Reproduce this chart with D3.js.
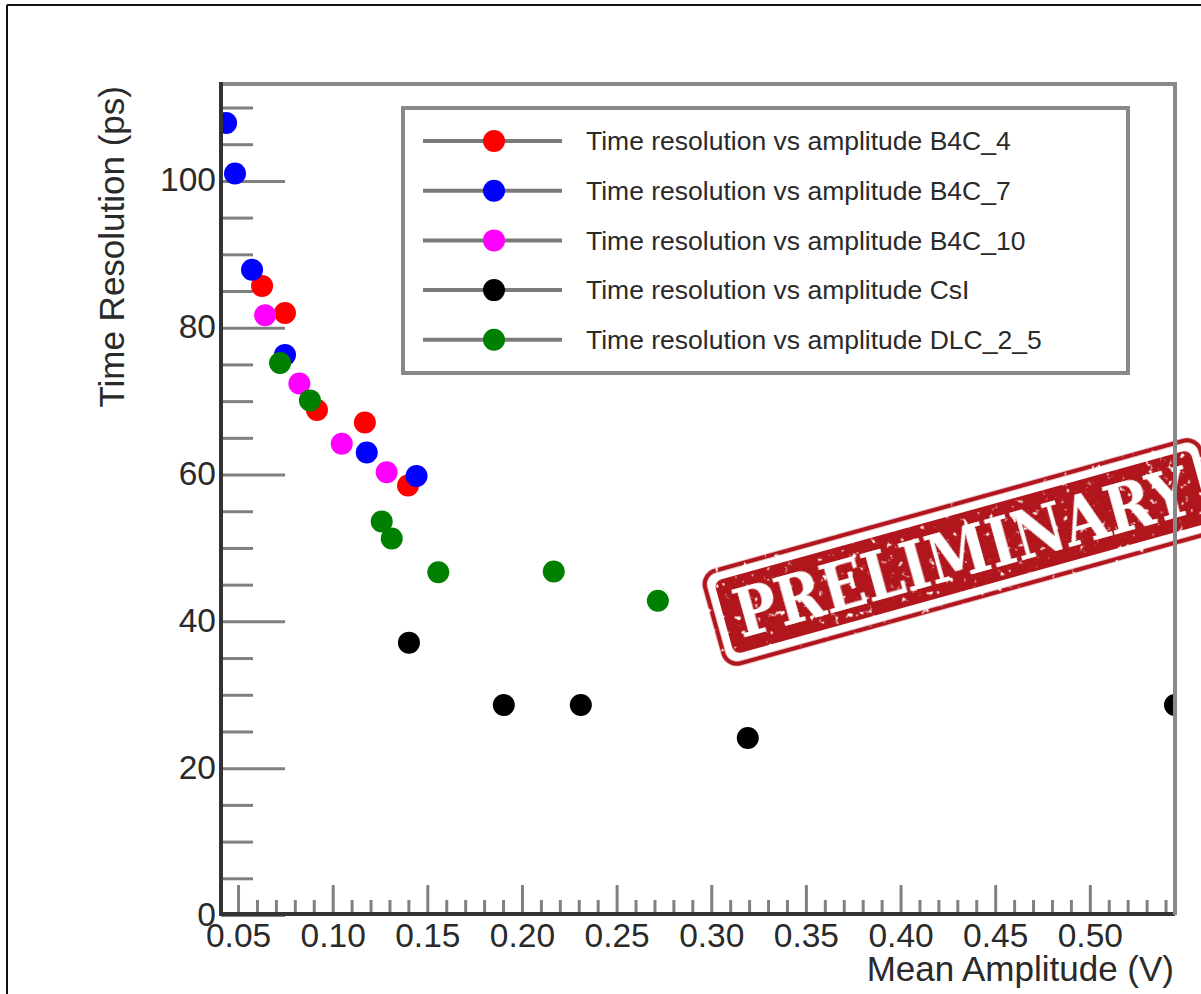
<!DOCTYPE html>
<html>
<head>
<meta charset="utf-8">
<script src="https://cdnjs.cloudflare.com/ajax/libs/d3/7.8.5/d3.min.js"></script>
<style>
  body { margin: 0; background: #fff; }
  svg { display: block; }
  text { font-family: "Liberation Sans", Arial, sans-serif; fill: #2a2a2a; }
</style>
</head>
<body>
<script>

// Data
var b4c4Amp  = [0.0627, 0.0748, 0.0917, 0.1170, 0.1398]
var b4c4Res  = [85.7, 82.0, 68.8, 67.1, 58.5]

var b4c7Amp  = [0.0437, 0.0484, 0.0574, 0.0748, 0.1180, 0.1443]
var b4c7Res  = [107.9, 101.0, 87.9, 76.3, 63.0, 59.8]

var b4c10Amp = [0.0643, 0.0824, 0.1048, 0.1285]
var b4c10Res = [81.7, 72.4, 64.2, 60.3]

var csiAmp   = [0.1403, 0.1904, 0.2311, 0.3193, 0.5450]
var csiRes   = [37.1, 28.6, 28.6, 24.1, 28.6]

var dlcAmp   = [0.0722, 0.0880, 0.1259, 0.1312, 0.1558, 0.2168, 0.2718]
var dlcRes   = [75.2, 70.1, 53.6, 51.3, 46.7, 46.8, 42.8]

var seriesNames = ['B4C_4', 'B4C_7', 'B4C_10', 'CsI', 'DLC_2_5']
var seriesAmp   = [b4c4Amp, b4c7Amp, b4c10Amp, csiAmp, dlcAmp]
var seriesRes   = [b4c4Res, b4c7Res, b4c10Res, csiRes, dlcRes]
var seriesColors = ['#ff0000', '#0000ff', '#ff00ff', '#000000', '#008000']

var xTicks = [0.05, 0.10, 0.15, 0.20, 0.25, 0.30, 0.35, 0.40, 0.45, 0.50]
var yTicks = [0, 20, 40, 60, 80, 100]

// Canvas / frame  (note: "top" is taken by window.top, so use frame*)
var W = 1201, H = 994
var frameL = 221, frameR = 1175, frameT = 84, frameB = 915

var svg = d3.select('body').append('svg')
  .attr('width', W)
  .attr('height', H)

svg.append('rect').attr('width', W).attr('height', H).attr('fill', '#fff')

// outer black window border (top / left)
svg.append('line').attr('x1', 7).attr('x2', W).attr('y1', 5).attr('y2', 5)
  .attr('stroke', '#111').attr('stroke-width', 2)
svg.append('line').attr('x1', 7).attr('x2', 7).attr('y1', 5).attr('y2', H)
  .attr('stroke', '#111').attr('stroke-width', 2)

// Scales
var xScale = d3.scaleLinear().domain([0.041, 0.545]).range([frameL, frameR])
var yScale = d3.scaleLinear().domain([0, 113.2]).range([frameB, frameT])

// frame top line
svg.append('line').attr('x1', frameL).attr('x2', frameR).attr('y1', frameT).attr('y2', frameT)
  .attr('stroke', '#888').attr('stroke-width', 4)

// Y axis: minor ticks every 5, majors every 20 (ticks point inward)
var yMinor = d3.range(5, 113, 5).filter(function(v) { return v % 20 !== 0 })
svg.append('g')
  .attr('class', 'y minor')
  .attr('transform', 'translate(' + frameL + ',0)')
  .call(d3.axisLeft(yScale).tickValues(yMinor).tickSize(-32).tickFormat(''))
svg.append('g')
  .attr('class', 'y axis')
  .attr('transform', 'translate(' + frameL + ',0)')
  .call(d3.axisLeft(yScale).tickValues(yTicks).tickSize(-64).tickPadding(5).tickFormat(d3.format('d')))

// X axis: minor ticks every 0.01, majors every 0.05
var xMinor = d3.range(5, 55).map(function(v) { return v / 100 }).filter(function(v) { return Math.round(v * 100) % 5 !== 0 })
svg.append('g')
  .attr('class', 'x minor')
  .attr('transform', 'translate(0,' + frameB + ')')
  .call(d3.axisBottom(xScale).tickValues(xMinor).tickSize(-15).tickFormat(''))
svg.append('g')
  .attr('class', 'x axis')
  .attr('transform', 'translate(0,' + frameB + ')')
  .call(d3.axisBottom(xScale).tickValues(xTicks).tickSize(-30).tickPadding(8).tickFormat(d3.format('.2f')))

svg.selectAll('.domain').remove()
svg.selectAll('.tick line').attr('stroke', '#808080').attr('stroke-width', 3)
svg.selectAll('.tick text').attr('font-size', 33.5).attr('fill', '#333')
svg.selectAll('.y.axis .tick text').attr('dy', '0.3em')

// axis lines
svg.append('line').attr('x1', frameL).attr('x2', frameL).attr('y1', frameT - 2).attr('y2', frameB + 1)
  .attr('stroke', '#333').attr('stroke-width', 4)
svg.append('line').attr('x1', frameL - 2).attr('x2', frameR).attr('y1', frameB - 1).attr('y2', frameB - 1)
  .attr('stroke', '#333').attr('stroke-width', 4)

// Axis titles
svg.append('text')
  .attr('transform', 'translate(124,' + (frameT + 2) + ') rotate(-90)')
  .attr('text-anchor', 'end')
  .attr('font-size', 35)
  .attr('fill', '#333')
  .text('Time Resolution (ps)')

svg.append('text')
  .attr('x', frameR - 1)
  .attr('y', 981)
  .attr('text-anchor', 'end')
  .attr('font-size', 35)
  .attr('fill', '#333')
  .text('Mean Amplitude (V)')

// Points, clipped to the frame
svg.append('clipPath').attr('id', 'plotClip')
  .append('rect').attr('x', frameL + 2).attr('y', frameT).attr('width', frameR - frameL - 2).attr('height', frameB - frameT)

var pts = svg.append('g').attr('clip-path', 'url(#plotClip)')
seriesNames.forEach(function(name, i) {
  var data = seriesAmp[i].map(function(a, j) { return { amp: a, res: seriesRes[i][j] } })
  pts.append('g').selectAll('circle')
    .data(data)
    .enter().append('circle')
    .attr('cx', function(d) { return xScale(d.amp) })
    .attr('cy', function(d) { return yScale(d.res) })
    .attr('r', 11)
    .attr('fill', seriesColors[i])
})

// Legend
var lg = svg.append('g').attr('transform', 'translate(403,108)')
lg.append('rect').attr('width', 725).attr('height', 265)
  .attr('fill', '#fff').attr('stroke', '#888').attr('stroke-width', 4)

var rows = lg.selectAll('.row').data(seriesNames)
  .enter().append('g')
  .attr('class', 'row')
  .attr('transform', function(d, i) { return 'translate(0,' + (33 + i * 49.7) + ')' })
rows.append('line').attr('x1', 20).attr('x2', 159)
  .attr('stroke', '#7a7a7a').attr('stroke-width', 4)
rows.append('circle').attr('cx', 91).attr('r', 11)
  .attr('fill', function(d, i) { return seriesColors[i] })
rows.append('text').attr('x', 183).attr('dy', '0.35em')
  .attr('font-size', 26.5)
  .text(function(d) { return 'Time resolution vs amplitude ' + d })

// PRELIMINARY stamp
var defs = svg.append('defs')
var f = defs.append('filter').attr('id', 'grunge')
  .attr('x', '-10%').attr('y', '-10%').attr('width', '120%').attr('height', '120%')
f.append('feTurbulence').attr('type', 'fractalNoise').attr('baseFrequency', 0.14)
  .attr('numOctaves', 3).attr('seed', 7).attr('result', 'noise')
f.append('feColorMatrix').attr('in', 'noise').attr('type', 'matrix')
  .attr('values', '0 0 0 0 0  0 0 0 0 0  0 0 0 0 0  0 0 0 -9 7.2').attr('result', 'mask')
f.append('feComposite').attr('in', 'SourceGraphic').attr('in2', 'mask').attr('operator', 'in')

var stampRed = '#b0141b'
var stamp = svg.append('g')
  .attr('transform', 'translate(962,552) rotate(-15.5)')
  .attr('filter', 'url(#grunge)')
stamp.append('rect').attr('x', -257).attr('y', -48).attr('width', 514).attr('height', 96)
  .attr('rx', 14).attr('fill', 'none').attr('stroke', stampRed).attr('stroke-width', 4.5)
stamp.append('rect').attr('x', -247).attr('y', -38).attr('width', 494).attr('height', 76)
  .attr('rx', 8).attr('fill', stampRed)
stamp.append('text')
  .attr('text-anchor', 'middle')
  .attr('dy', '0.36em')
  .attr('font-size', 68)
  .attr('font-weight', 'bold')
  .attr('textLength', 470)
  .attr('lengthAdjust', 'spacingAndGlyphs')
  .style('font-family', '"DejaVu Serif", "Liberation Serif", serif')
  .style('fill', '#fff')
  .text('PRELIMINARY')

// frame right line, drawn over the stamp
svg.append('line').attr('x1', frameR).attr('x2', frameR).attr('y1', frameT - 2).attr('y2', frameB)
  .attr('stroke', '#888').attr('stroke-width', 4)

</script>
</body>
</html>
